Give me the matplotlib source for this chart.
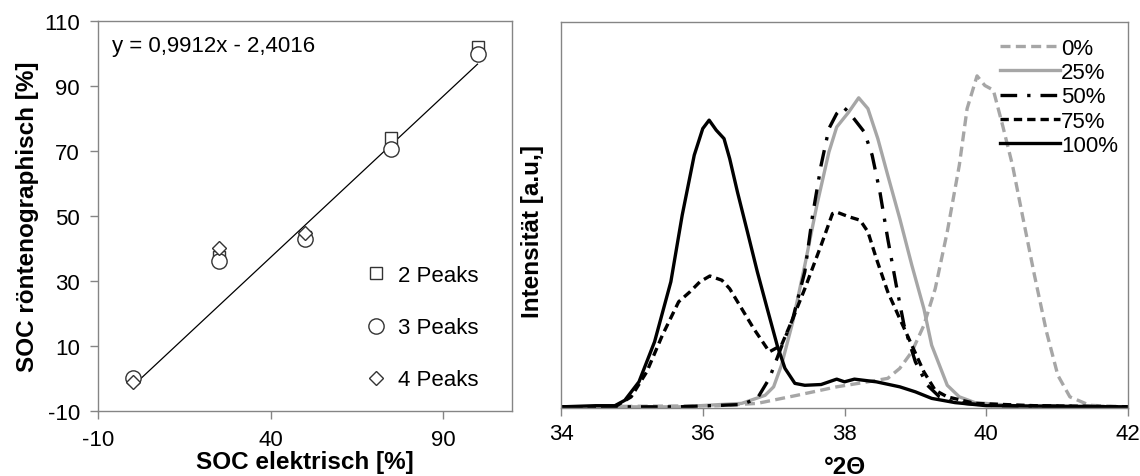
import matplotlib
matplotlib.use('Agg')
import matplotlib.pyplot as plt

plt.rcParams['font.family'] = ['Liberation Sans', 'DejaVu Sans']
plt.rcParams['axes.unicode_minus'] = False

# left panel: SOC electric vs SOC from XRD
soc_el = [0, 25, 50, 75, 100]
soc_el2 = [25, 50, 75, 100]
peaks2 = [37.5, 43.5, 74, 102]
peaks3 = [0.2, 36.2, 43, 70.5, 100]
soc_el4 = [0, 25, 50]
peaks4 = [-1, 40.2, 44.8]
fit_slope = 0.9912
fit_icpt = -2.4016
fit_text = 'y = 0,9912x - 2,4016'

# right panel: XRD profiles (2theta, intensity in % of plot height)
x_0 = [34.0, 36.21, 36.77, 37.33, 37.89, 38.33, 38.61, 38.78, 38.95, 39.12, 39.28,
       39.45, 39.62, 39.73, 39.87, 39.98, 40.10, 40.23, 40.37, 40.51, 40.68, 40.85,
       41.01, 41.18, 41.46, 42.0]
y_0 = [0, 0.3, 0.9, 3.0, 5.2, 6.5, 7.4, 10.0, 14.3, 21.2, 30.7,
       45.5, 62.8, 77.5, 86.0, 83.5, 82.3, 73.2, 62.8, 49.8, 34.2, 19.5,
       8.2, 2.6, 0.4, 0]
x_25 = [34.0, 35.66, 36.55, 36.88, 37.0, 37.11, 37.27, 37.44, 37.61, 37.78, 37.89,
        38.06, 38.20, 38.33, 38.47, 38.61, 38.78, 38.95, 39.12, 39.23, 39.34, 39.45,
        39.62, 39.84, 40.40, 42.0]
y_25 = [0, 0, 0.9, 3.0, 5.2, 10.8, 22.1, 36.8, 52.4, 66.2, 72.7,
        76.6, 80.3, 77.5, 69.7, 60.2, 48.9, 36.8, 25.5, 16.0, 10.8, 5.6,
        2.6, 1.1, 0.3, 0]
x_50 = [34.0, 35.66, 36.55, 36.77, 36.94, 37.11, 37.27, 37.44, 37.55, 37.67, 37.78,
        37.89, 37.98, 38.06, 38.17, 38.28, 38.39, 38.50, 38.61, 38.73, 38.84, 39.0,
        39.17, 39.34, 39.56, 40.12, 42.0]
y_50 = [0, 0, 0.6, 2.2, 7.4, 15.6, 22.9, 35.1, 49.8, 62.8, 72.3,
        76.2, 77.9, 76.6, 74.0, 71.4, 65.4, 55.8, 43.7, 31.6, 21.2, 11.7,
        5.6, 2.6, 1.1, 0.3, 0]
x_75 = [34.0, 34.76, 34.99, 35.21, 35.43, 35.66, 35.82, 35.96, 36.10, 36.27, 36.38,
        36.55, 36.72, 36.94, 37.11, 37.27, 37.44, 37.67, 37.83, 37.89, 38.06, 38.22,
        38.33, 38.45, 38.61, 38.78, 38.95, 39.12, 39.28, 39.45, 39.84, 40.68, 42.0]
y_75 = [0, 0, 2.6, 9.1, 18.6, 27.3, 29.9, 32.5, 34.0, 32.9, 30.7,
        25.5, 20.3, 14.3, 16.0, 22.9, 30.7, 42.0, 50.2, 50.6, 49.4, 48.5,
        45.5, 38.5, 29.9, 22.9, 16.0, 9.1, 4.3, 2.6, 0.9, 0.3, 0]
x_100 = [34.0, 34.49, 34.76, 34.90, 35.10, 35.32, 35.55, 35.71, 35.88, 36.0, 36.09,
         36.19, 36.30, 36.38, 36.49, 36.63, 36.77, 36.91, 37.05, 37.16, 37.30, 37.44,
         37.67, 37.89, 38.0, 38.14, 38.45, 38.78, 39.0, 39.23, 39.56, 40.0, 41.24, 42.0]
y_100 = [0, 0.3, 0.3, 1.7, 6.5, 16.9, 32.5, 49.8, 65.4, 72.3, 74.5,
         71.9, 69.7, 64.5, 55.8, 45.5, 35.1, 25.5, 16.0, 10.0, 6.1, 5.6,
         5.8, 7.2, 6.5, 7.2, 6.5, 5.2, 3.9, 2.2, 1.1, 0.3, 0.1, 0]
xrd_labels = ['0%', '25%', '50%', '75%', '100%']

spine_col = '#858585'
gray = '#a6a6a6'

fig = plt.figure(figsize=(11.4, 4.77), dpi=100)

# ---- left panel
ax1 = fig.add_axes([98 / 1140, 1 - 412 / 477, 414 / 1140, 390 / 477])
fx = [soc_el[0], soc_el[-1]]
ax1.plot(fx, [fit_slope * v + fit_icpt for v in fx], color='black', lw=0.9)
ax1.plot(soc_el2, peaks2, ls='none', marker='s', ms=9, mfc='white', mec='#333333',
         mew=1.0, label='2 Peaks')
ax1.plot(soc_el, peaks3, ls='none', marker='o', ms=11, mfc='white', mec='#333333',
         mew=1.0, label='3 Peaks')
ax1.plot(soc_el4, peaks4, ls='none', marker='D', ms=7.5, mfc='white', mec='#333333',
         mew=1.0, label='4 Peaks')
ax1.set_xlim(-10, 110)
ax1.set_ylim(-10, 110)
ax1.set_xticks([-10, 40, 90])
ax1.set_yticks(range(-10, 111, 20))
ax1.text(0.035, 0.936, fit_text, transform=ax1.transAxes, fontsize=16, va='center')
ax1.set_xlabel('SOC elektrisch [%]', fontsize=17.5, fontweight='bold', labelpad=0)
ax1.set_ylabel('SOC röntenographisch [%]', fontsize=17.5, fontweight='bold', labelpad=4)
ax1.legend(loc='lower right', bbox_to_anchor=(0.94, 0.03), frameon=False, fontsize=16,
           labelspacing=1.4, handlelength=1.0, handletextpad=0.5, borderaxespad=0.0)
ax1.tick_params(direction='out', length=6, pad=7)

# ---- right panel
ax2 = fig.add_axes([561 / 1140, 1 - 409 / 477, 567 / 1140, 386 / 477])
ax2.plot(x_0, y_0, color=gray, lw=2.4, dashes=(3, 1.6), label=xrd_labels[0])
ax2.plot(x_25, y_25, color=gray, lw=2.4, label=xrd_labels[1])
ax2.plot(x_50, y_50, color='black', lw=2.4, dashes=(5, 3, 1, 3), label=xrd_labels[2])
ax2.plot(x_75, y_75, color='black', lw=2.4, dashes=(2.5, 1.5), label=xrd_labels[3])
ax2.plot(x_100, y_100, color='black', lw=2.4, label=xrd_labels[4])
ax2.set_xlim(34, 42)
ax2.set_ylim(-0.3, 100)
ax2.set_xticks(range(34, 43, 2))
ax2.set_yticks([])
ax2.set_ylabel('Intensität [a.u,]', fontsize=17.5, fontweight='bold')
ax2.yaxis.set_label_coords(-0.03, 0.46)
ax2.set_xlabel('°2Θ', fontsize=17.5, fontweight='bold', labelpad=8)
ax2.legend(loc='upper right', frameon=False, fontsize=16, labelspacing=0.15,
           handlelength=2.7, handletextpad=0.05, borderaxespad=0.05,
           bbox_to_anchor=(1.0, 0.985))
ax2.tick_params(direction='out', length=6, pad=5)

for ax in (ax1, ax2):
    for sp in ax.spines.values():
        sp.set_color(spine_col)
        sp.set_linewidth(1.0)
    ax.tick_params(width=1.0, color=spine_col, labelsize=16)

fig.savefig('out.png', dpi=100)
